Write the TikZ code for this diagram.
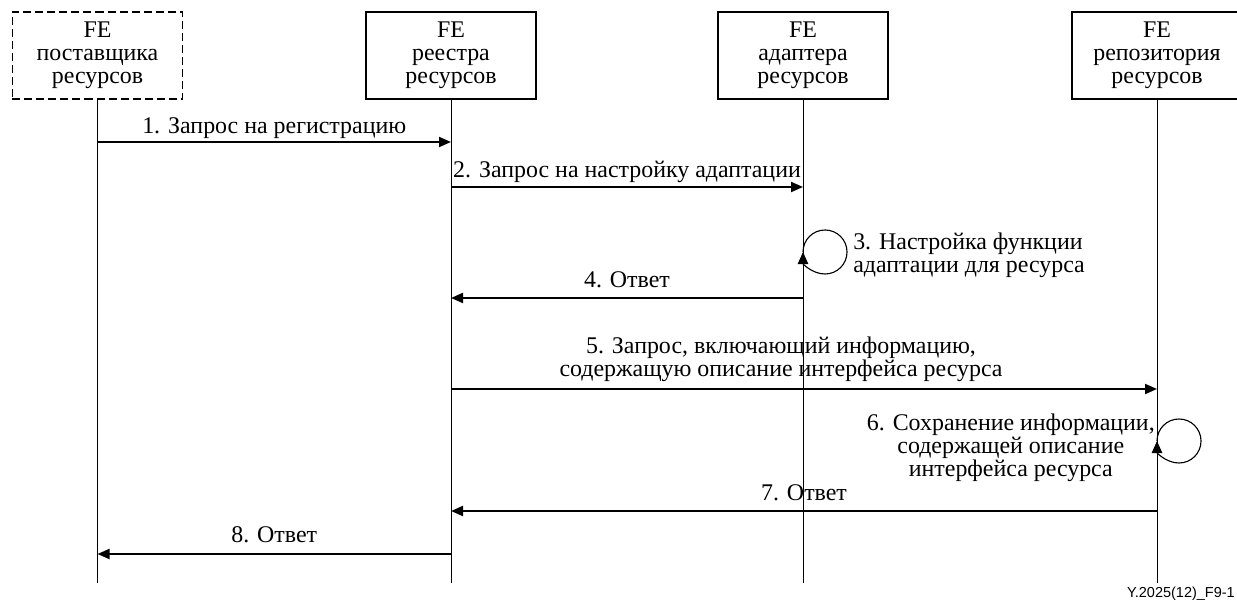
\documentclass[tikz,border=0pt]{standalone}
\usepackage{fontspec}
\setmainfont{Liberation Serif}
\newfontfamily\capfont{Liberation Sans}
\usetikzlibrary{arrows.meta}
\tikzset{
  fe/.style={draw, line width=0.8pt, minimum width=4.25cm, minimum height=2.175cm,
    align=center, inner sep=0pt, font=\fontsize{17}{16.4}\selectfont},
  life/.style={line width=0.7pt},
  msg/.style={line width=1.4pt, -{Triangle[length=0.3cm,width=0.25cm]}},
  selfloop/.style={line width=0.8pt, -{Triangle[length=0.3cm,width=0.26cm]}},
  lbl/.style={font=\fontsize{17}{16.4}\selectfont, inner sep=0pt}
}
\begin{document}
\begin{tikzpicture}[x=0.025cm, y=-0.025cm]
\useasboundingbox (0,0) rectangle (1237,602);

% Functional entities
\node[fe, dash pattern=on 0.2cm off 0.1cm] (prov) at (97.5,55.5) {FE\\поставщика\\ресурсов};
\node[fe] (reg) at (451,55.5) {FE\\реестра\\ресурсов};
\node[fe] (adp) at (803,55.5) {FE\\адаптера\\ресурсов};
\node[fe] (repo) at (1157,55.5) {FE\\репозитория\\ресурсов};

% Lifelines
\foreach \n in {prov,reg,adp,repo} {
  \draw[life] (\n.south) -- (\n |- 0,583);
}

% Messages
\draw[msg] (prov |- 0,142) -- (reg |- 0,142)
  node[lbl, midway, anchor=base, yshift=0.2cm] {1. Запрос на регистрацию};
\draw[msg] (reg |- 0,187) -- (adp |- 0,187)
  node[lbl, midway, anchor=base, yshift=0.225cm] {2. Запрос на настройку адаптации};

% Adaptation set-up
\draw[selfloop] (adp |- 0,252) arc[start angle=180, end angle=-180, radius=0.55cm];
\node[lbl, anchor=west, align=left] (note3) at (853,255) {3. Настройка функции\\адаптации для ресурса};

\draw[msg] (adp |- 0,298) -- (reg |- 0,298)
  node[lbl, midway, anchor=base, yshift=0.25cm] {4. Ответ};
\draw[msg] (reg |- 0,389) -- (repo |- 0,389)
  node[lbl, midway, anchor=south, yshift=0.15cm, xshift=-0.575cm, align=center]
  {5. Запрос, включающий информацию,\\содержащую описание интерфейса ресурса};

% Storing the description
\draw[selfloop] (repo |- 0,441) arc[start angle=180, end angle=-180, radius=0.55cm];
\node[lbl, anchor=east, align=center] (note6) at (1155,448)
  {6. Сохранение информации,\\содержащей описание\\интерфейса ресурса};

\draw[msg] (repo |- 0,511) -- (reg |- 0,511)
  node[lbl, midway, anchor=base, yshift=0.25cm] {7. Ответ};
\draw[msg] (reg |- 0,554) -- (prov |- 0,554)
  node[lbl, midway, anchor=base, yshift=0.275cm] {8. Ответ};

% Figure number
\node[font=\capfont\fontsize{10.3}{12}\selectfont, anchor=base east, inner sep=0pt] (figid)
  at (1235,597) {Y.2025(12)\_F9-1};
\end{tikzpicture}
\end{document}
